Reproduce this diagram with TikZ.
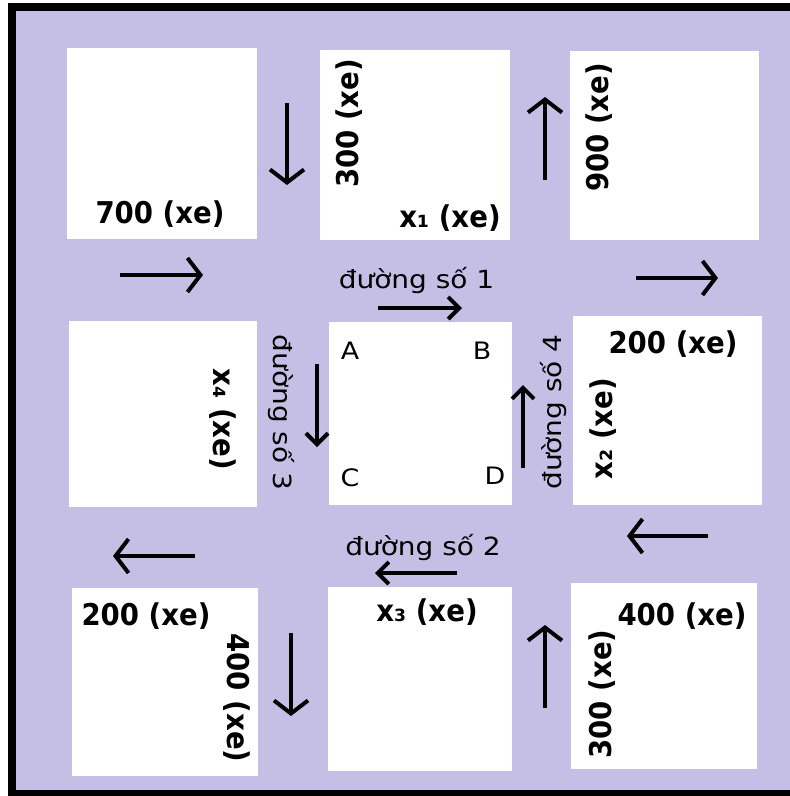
\documentclass[tikz,border=0pt]{standalone}
\usepackage{fontspec}
\setmainfont{DejaVu Sans}
\newfontfamily\lblfont[FakeStretch=0.92]{DejaVu Sans}
\newfontfamily\roadfont[FakeStretch=1.12]{DejaVu Sans}
\usetikzlibrary{arrows.meta}
\definecolor{lav}{RGB}{198,191,229}
\tikzset{
  box/.style={fill=white, inner sep=0pt, outer sep=0pt},
  num/.style={inner sep=0pt, anchor=base, font=\lblfont\bfseries\fontsize{30}{30}\selectfont},
  road/.style={inner sep=0pt, anchor=base, font=\roadfont\fontsize{25}{25}\selectfont},
  corner/.style={inner sep=0pt, font=\roadfont\fontsize{24}{24}\selectfont},
  flow/.style={line width=4.5pt, -{Straight Barb[length=13pt,width=34pt,line width=4pt]}},
  smallflow/.style={line width=4.5pt, -{Straight Barb[length=11pt,width=22pt,line width=4pt]}},
}
\begin{document}
\begin{tikzpicture}[x=1pt,y=-1pt]
\useasboundingbox (0,0) rectangle (790,796);
\fill[white] (0,0) rectangle (790,796);
\fill[lav] (16,11) rectangle (790,790);
\fill[black] (8,3) rectangle (16,796);
\fill[black] (8,3) rectangle (790,11);
\fill[black] (8,790) rectangle (790,796);
% boxes
\node[box, minimum width=190pt, minimum height=191pt] (tl) at (162,143.5) {};
\node[box, minimum width=190pt, minimum height=190pt] (tm) at (415,145) {};
\node[box, minimum width=189pt, minimum height=189pt] (tr) at (664.5,145.5) {};
\node[box, minimum width=188pt, minimum height=186pt] (ml) at (163,414) {};
\node[box, minimum width=183pt, minimum height=183pt] (mc) at (420.5,413.5) {};
\node[box, minimum width=189pt, minimum height=189pt] (mr) at (667.5,410.5) {};
\node[box, minimum width=186pt, minimum height=188pt] (bl) at (165,682) {};
\node[box, minimum width=184pt, minimum height=184pt] (bm) at (420,679) {};
\node[box, minimum width=186pt, minimum height=186pt] (br) at (664,676) {};
% labels in boxes
\node[num] (t700) at (160,223) {700 (xe)};
\node[num, rotate=90] (t300a) at (358,123.5) {300 (xe)};
\node[num] (tx1) at (450,227) {x₁ (xe)};
\node[num, rotate=90] (t900) at (608,127.5) {900 (xe)};
\node[num, rotate=-90] (tx4) at (213,419.5) {x₄ (xe)};
\node[num] (t200a) at (673,353) {200 (xe)};
\node[num, rotate=90] (tx2) at (612,428.5) {x₂ (xe)};
\node[num] (t200b) at (146,625) {200 (xe)};
\node[num, rotate=-90] (t400a) at (227,698) {400 (xe)};
\node[num] (tx3) at (427,621) {x₃ (xe)};
\node[num] (t400b) at (682,625) {400 (xe)};
\node[num, rotate=90] (t300b) at (611,694) {300 (xe)};
% corners
\node[corner] (A) at (350,351) {A};
\node[corner] (B) at (482,351) {B};
\node[corner] (C) at (350,478) {C};
\node[corner] (D) at (495,476) {D};
% road labels
\node[road] (r1) at (416.5,288) {đường số 1};
\node[road] (r2) at (423,555) {đường số 2};
\node[road, rotate=-90] (r3) at (273,412.5) {đường số 3};
\node[road, rotate=90] (r4) at (561,412) {đường số 4};
% arrow end points
\coordinate (a1s) at (287,103); \coordinate (a1e) at (287,185);
\coordinate (a2s) at (545,180); \coordinate (a2e) at (545,97);
\coordinate (a3s) at (120,275); \coordinate (a3e) at (203,275);
\coordinate (a4s) at (636,278); \coordinate (a4e) at (718,278);
\coordinate (a5s) at (378,308); \coordinate (a5e) at (462,308);
\coordinate (a6s) at (317,364); \coordinate (a6e) at (317,447);
\coordinate (a7s) at (523,468); \coordinate (a7e) at (523,385);
\coordinate (a8s) at (708,536); \coordinate (a8e) at (627,536);
\coordinate (a9s) at (195,556); \coordinate (a9e) at (113,556);
\coordinate (a10s) at (457,573); \coordinate (a10e) at (375,573);
\coordinate (a11s) at (291,633); \coordinate (a11e) at (291,716);
\coordinate (a12s) at (545,708); \coordinate (a12e) at (545,625);
\foreach \i in {1,2,3,4,8,9,11,12} \draw[flow] (a\i s) -- (a\i e);
\foreach \i in {5,6,7,10} \draw[smallflow] (a\i s) -- (a\i e);
\end{tikzpicture}
\end{document}
